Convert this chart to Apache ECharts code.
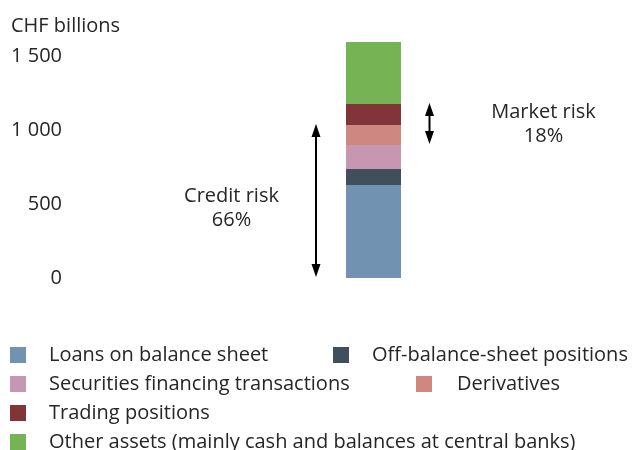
<!DOCTYPE html>
<html>
<head>
<meta charset="utf-8">
<script src="https://cdn.jsdelivr.net/npm/echarts@6/dist/echarts.min.js"></script>
<style>
  html, body { margin: 0; padding: 0; background: #fff; }
  #chart { width: 632px; height: 450px; }
</style>
</head>
<body>
<div id="chart"></div>
<script>
// data
var categories = ['Total']
var seriesNames = [
  'Loans on balance sheet',
  'Off-balance-sheet positions',
  'Securities financing transactions',
  'Derivatives',
  'Trading positions',
  'Other assets (mainly cash and balances at central banks)'
]
var seriesValues = [628, 108, 162, 135, 142, 419]
var seriesColors = ['#7292b1', '#414e5b', '#c597b1', '#cf8782', '#813538', '#75b354']
var yTicks = [0, 500, 1000, 1500]
// arrows: span of stacked segments [from, to)
var riskLabels = ['Credit risk\n66%', 'Market risk\n18%']
var riskSpans = [[0, 4], [3, 5]]

var font = 'Open Sans'
var textColor = '#262626'

var chartDom = document.getElementById('chart')
var myChart = echarts.init(chartDom)

var series = seriesNames.map(function (name, i) {
  return {
    name: name,
    type: 'bar',
    stack: 'total',
    barWidth: 55,
    clip: false,
    itemStyle: { color: seriesColors[i] },
    emphasis: { disabled: true },
    data: [seriesValues[i]]
  }
})

// one legend per item so each sits where the reference puts it
var legendPos = [[10, 345], [333, 345], [10, 374], [416, 374], [10, 403], [10, 432]]
var legendPad = [18, 18, 18, 20, 18, 18]
var legends = seriesNames.map(function (name, i) {
  return {
    left: legendPos[i][0],
    top: legendPos[i][1],
    padding: 0,
    itemWidth: 16,
    itemHeight: 16,
    selectedMode: false,
    icon: 'rect',
    textStyle: {
      fontFamily: font,
      fontSize: 20,
      color: textColor,
      padding: [0, 0, 0, legendPad[i]]
    },
    data: [name]
  }
})

var option = {
  animation: false,
  title: {
    text: 'CHF billions',
    left: 11,
    top: 16,
    padding: 0,
    textStyle: { fontFamily: font, fontSize: 20, fontWeight: 'normal', color: textColor }
  },
  legend: legends,
  grid: { left: 115, right: 0, top: 56, bottom: 172 },
  xAxis: {
    type: 'category',
    data: categories,
    show: false
  },
  yAxis: {
    type: 'value',
    min: yTicks[0],
    max: yTicks[yTicks.length - 1],
    interval: 500,
    axisLine: { show: false },
    axisTick: { show: false },
    splitLine: { show: false },
    axisLabel: {
      margin: 53,
      padding: [6, 0, 0, 0],
      fontFamily: font,
      fontSize: 20,
      color: textColor,
      formatter: function (v) {
        return String(v).replace(/\B(?=(\d{3})+(?!\d))/g, ' ')
      }
    }
  },
  series: series
}
myChart.setOption(option)

// annotation arrows, positioned from the axes
var cum = [0]
seriesValues.forEach(function (v, i) { cum.push(cum[i] + v) })

function arrow(x, yTop, yBottom) {
  var head = 13, half = 4.5
  return [
    { type: 'line', shape: { x1: x, y1: yTop + head - 2, x2: x, y2: yBottom - head + 2 }, style: { stroke: '#000', lineWidth: 2 }, silent: true },
    { type: 'polygon', shape: { points: [[x, yTop], [x - half, yTop + head], [x + half, yTop + head]] }, style: { fill: '#000' }, silent: true },
    { type: 'polygon', shape: { points: [[x, yBottom], [x - half, yBottom - head], [x + half, yBottom - head]] }, style: { fill: '#000' }, silent: true }
  ]
}

var arrowOffsets = [-57.5, 56]
var labelOffsets = [[-142, 7], [170, 0]]
var graphics = []
riskSpans.forEach(function (span, i) {
  var pBottom = myChart.convertToPixel({ gridIndex: 0 }, [categories[0], cum[span[0]]])
  var pTop = myChart.convertToPixel({ gridIndex: 0 }, [categories[0], cum[span[1]]])
  var x = pBottom[0] + arrowOffsets[i]
  graphics = graphics.concat(arrow(x, pTop[1] - 1, pBottom[1] - 1))
  graphics.push({
    type: 'text',
    x: pBottom[0] + labelOffsets[i][0],
    y: (pTop[1] + pBottom[1]) / 2 + labelOffsets[i][1],
    silent: true,
    style: {
      text: riskLabels[i],
      fontFamily: font,
      fontSize: 20,
      lineHeight: 24,
      fill: textColor,
      align: 'center',
      verticalAlign: 'middle'
    }
  })
})
myChart.setOption({ graphic: graphics })

window.addEventListener('resize', function () {
  myChart.resize()
})
</script>
</body>
</html>
